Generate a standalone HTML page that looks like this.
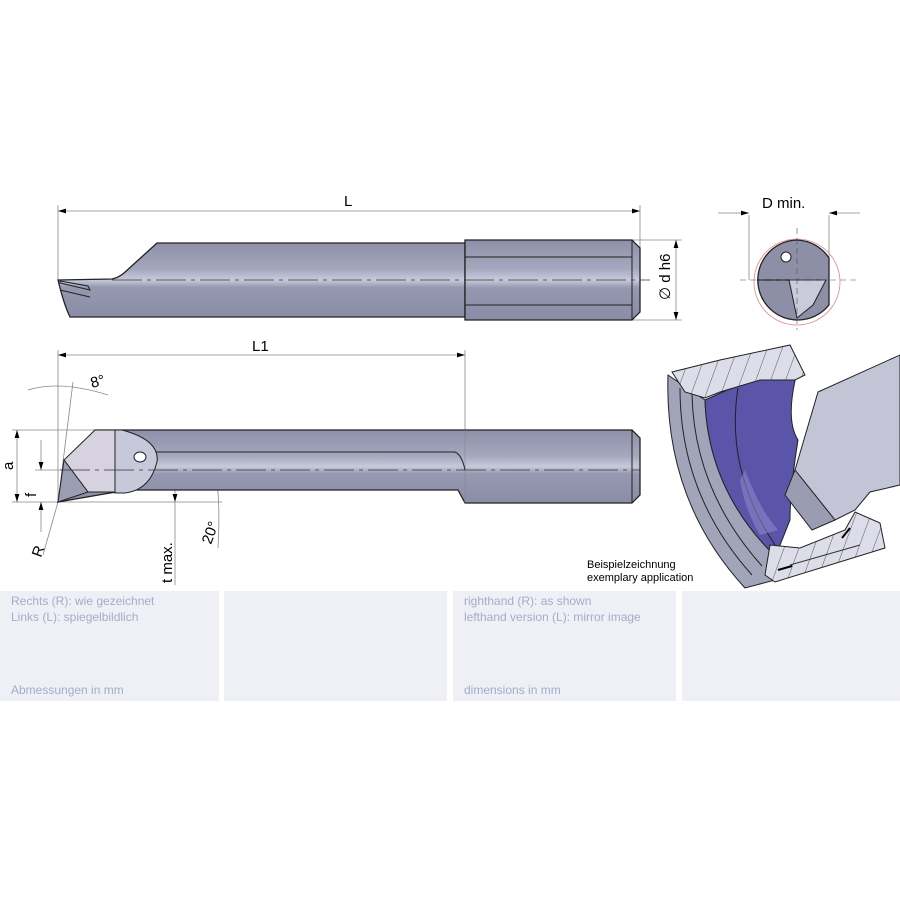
<!DOCTYPE html>
<html><head><meta charset="utf-8"><style>
body{margin:0;background:#fff;width:900px;height:900px;overflow:hidden;position:relative;font-family:"Liberation Sans",sans-serif}
.p{position:absolute;top:591px;height:110px;background:#eef0f6;color:#a4acc8;font-size:12px;line-height:16px}
.p div{position:absolute;left:11px}
</style></head><body>
<svg width="900" height="900" style="position:absolute;left:0;top:0" font-family="Liberation Sans, sans-serif">
<defs>
<linearGradient id="g" x1="0" y1="0" x2="0" y2="1">
<stop offset="0" stop-color="#8d90a8"/><stop offset=".35" stop-color="#a4a7bd"/><stop offset=".5" stop-color="#c8cadb"/><stop offset=".6" stop-color="#9598b0"/><stop offset="1" stop-color="#8a8da5"/></linearGradient>
<marker id="a" markerWidth="10" markerHeight="6" refX="10" refY="3" orient="auto-start-reverse"><path d="M0,0L10,3L0,6z" fill="#000"/></marker>
<pattern id="h" width="14" height="14" patternUnits="userSpaceOnUse" patternTransform="rotate(20)"><rect width="14" height="14" fill="#dcdde9"/><line x1="0" y1="0" x2="0" y2="14" stroke="#333" stroke-width="0.8"/></pattern>
</defs>
<g stroke="#888" stroke-width="0.8" fill="none">
<line x1="58" y1="205" x2="58" y2="280"/><line x1="640" y1="205" x2="640" y2="250"/>
<line x1="58" y1="211" x2="640" y2="211" marker-start="url(#a)" marker-end="url(#a)"/>
<line x1="632" y1="240" x2="682" y2="240"/><line x1="632" y1="320" x2="682" y2="320"/>
<line x1="676" y1="240" x2="676" y2="320" marker-start="url(#a)" marker-end="url(#a)"/>
<line x1="749" y1="215" x2="749" y2="280"/><line x1="829" y1="215" x2="829" y2="280"/>
<line x1="718" y1="213" x2="749" y2="213" marker-end="url(#a)"/><line x1="860" y1="213" x2="829" y2="213" marker-end="url(#a)"/>
<line x1="58" y1="350" x2="58" y2="500"/><line x1="465" y1="350" x2="465" y2="430"/>
<line x1="58" y1="355" x2="465" y2="355" marker-start="url(#a)" marker-end="url(#a)"/>
<line x1="12" y1="430" x2="95" y2="430"/><line x1="35" y1="470" x2="140" y2="470"/><line x1="12" y1="502" x2="222" y2="502"/>
<line x1="17" y1="430" x2="17" y2="502" marker-start="url(#a)" marker-end="url(#a)"/>
<line x1="41" y1="440" x2="41" y2="470" marker-end="url(#a)"/><line x1="41" y1="532" x2="41" y2="502" marker-end="url(#a)"/>
<line x1="175" y1="465" x2="175" y2="502" marker-end="url(#a)"/><line x1="175" y1="585" x2="175" y2="502"/>
<line x1="58" y1="502" x2="73" y2="382"/>
<path d="M28,390 Q60,380 108,395"/>
<line x1="90" y1="492" x2="212" y2="448"/>
<path d="M208,448 Q222,475 218,548"/>
<line x1="43" y1="555" x2="58" y2="502"/>
</g>
<path d="M58,280 L112,279 Q118,278 124,273 L157,243 L465,243 L465,317 L70,317 Q64,305 58,280z" fill="url(#g)" stroke="#222" stroke-width="1.3"/>
<path d="M60,283 L90,290 L88,286 L60,281z M60,290 L90,297" fill="none" stroke="#222" stroke-width="1"/>
<path d="M465,240 L632,240 L640,248 L640,312 L632,320 L465,320z" fill="url(#g)" stroke="#222" stroke-width="1.3"/>
<line x1="465" y1="257" x2="632" y2="257" stroke="#222"/><line x1="465" y1="305" x2="632" y2="305" stroke="#222"/>
<line x1="632" y1="240" x2="632" y2="320" stroke="#222"/>
<line x1="112" y1="280" x2="650" y2="280" stroke="#333" stroke-width="0.8" stroke-dasharray="30,5,4,5"/>
<circle cx="797" cy="282" r="43" fill="none" stroke="#e08a8a" stroke-width="0.8"/>
<path d="M797,240 A40,40 0 1 0 829,305 L829,258 A40,40 0 0 0 797,240z" fill="#8c8fa6" stroke="#222" stroke-width="1.3"/>
<path d="M789,280 L826,280 L813,305 L797,318z" fill="#c9cbdb" stroke="#222"/>
<circle cx="786" cy="257" r="5" fill="#fff" stroke="#222"/>
<line x1="757" y1="280" x2="789" y2="280" stroke="#222" stroke-width="1.2"/>
<line x1="740" y1="280" x2="860" y2="280" stroke="#555" stroke-width="0.6" stroke-dasharray="6,4"/>
<line x1="797" y1="228" x2="797" y2="330" stroke="#555" stroke-width="0.6" stroke-dasharray="6,4"/>
<path d="M95,430 L632,430 L640,438 L640,495 L632,503 L465,503 L458,490 L130,490 L110,493 L58,502z" fill="url(#g)" stroke="#222" stroke-width="1.3"/>
<line x1="632" y1="430" x2="632" y2="503" stroke="#222"/>
<line x1="465" y1="430" x2="465" y2="503" stroke="#888" stroke-width="0.6"/>
<path d="M150,452 L455,452 Q462,455 465,470" fill="none" stroke="#222"/>
<path d="M95,430 L122,430 L115,492 L88,492 L64,460z" fill="#d7d2e0" stroke="#222"/>
<path d="M64,460 L58,502 L88,492z" fill="#9b9db3" stroke="#222"/>
<path d="M115,430 L122,430 Q160,440 157,462 Q150,490 125,493 L115,493z" fill="#c7c9da" stroke="#222"/>
<ellipse cx="140" cy="457" rx="6" ry="5" fill="#fff" stroke="#222"/>
<line x1="60" y1="470" x2="640" y2="470" stroke="#333" stroke-width="0.7" stroke-dasharray="30,5,4,5"/>
<!-- section view -->
<path d="M668,375 Q664,500 745,588 L775,580 L775,556 Q708,490 705,400 L690,390z" fill="#a2a5ba" stroke="#222"/>
<path d="M680,388 Q680,495 752,575" fill="none" stroke="#222"/>
<path d="M692,394 Q694,490 762,566" fill="none" stroke="#222"/>
<path d="M705,400 L745,382 L797,372 Q785,420 798,440 Q790,490 790,520 L780,545 L775,556 Q708,490 705,400z" fill="#5a55a8" stroke="#222"/>
<path d="M738,388 Q725,470 775,545" fill="none" stroke="#222"/>
<path d="M745,470 Q760,510 778,530 L760,535 Q745,510 740,480z" fill="#8a85c8" opacity="0.6"/>
<path d="M672,372 L720,360 L790,345 L805,375 L795,380 L760,380 L720,392 L705,398 L685,392z" fill="url(#h)" stroke="#222"/>
<path d="M770,545 L800,548 L845,530 L855,512 L880,523 L885,548 L775,582 L765,575z" fill="url(#h)" stroke="#222"/>
<path d="M790,565 L860,545" stroke="#333" fill="none"/>
<path d="M818,392 L900,355 L900,485 L870,492 L855,510 L835,520 L795,470z" fill="#c3c5d6" stroke="#222"/>
<path d="M795,470 L835,520 L812,530 L785,495z" fill="#9a9cb2" stroke="#222"/>
<path d="M792,566 L778,570 M850,528 L842,538" stroke="#000" stroke-width="2"/>
<g font-size="15" fill="#000">
<text x="344" y="206">L</text>
<text x="762" y="208">D min.</text>
<text x="252" y="351">L1</text>
<text transform="translate(670,300) rotate(-90)">∅ d h6</text>
<text x="92" y="388" transform="rotate(-15 92 388)">8°</text>
<text transform="translate(13,470) rotate(-90)">a</text>
<text transform="translate(36,497) rotate(-90)">f</text>
<text transform="translate(41,558) rotate(-70)">R</text>
<text transform="translate(172,583) rotate(-90)">t max.</text>
<text transform="translate(211,545) rotate(-70)">20°</text>
</g>
<text x="587" y="568" font-size="11">Beispielzeichnung</text>
<text x="587" y="581" font-size="11">exemplary application</text>
</svg>
<div class="p" style="left:0;width:219px"><div style="top:2px">Rechts (R): wie gezeichnet<br>Links (L): spiegelbildlich</div><div style="top:91px">Abmessungen in mm</div></div>
<div class="p" style="left:224px;width:223px"></div>
<div class="p" style="left:453px;width:223px"><div style="top:2px">righthand (R): as shown<br>lefthand version (L): mirror image</div><div style="top:91px">dimensions in mm</div></div>
<div class="p" style="left:682px;width:218px"></div>
</body></html>
